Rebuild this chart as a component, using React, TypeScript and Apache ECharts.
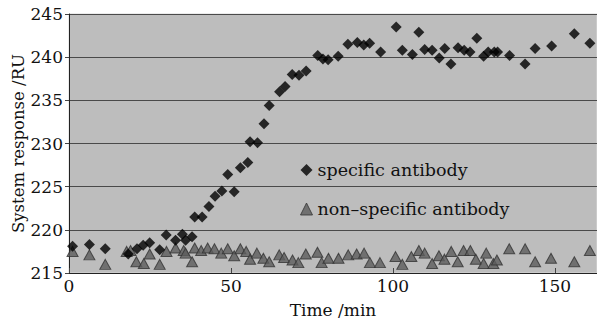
import React, { useEffect, useRef } from "react";
import * as echarts from "echarts";

const specificX = [1.1, 6.3, 11.2, 18.3, 21.0, 22.9, 24.9, 28.0, 30.0, 32.9, 35.0, 36.0, 38.0, 38.8, 41.1, 43.2, 45.1, 47.2, 49.0, 51.0, 52.9, 55.2, 55.9, 58.2, 60.2, 61.8, 65.0, 66.7, 68.9, 71.0, 73.2, 76.8, 78.4, 80.0, 83.1, 86.1, 89.0, 91.0, 92.8, 96.2, 101.0, 102.9, 106.0, 108.0, 109.8, 112.1, 114.3, 116.0, 117.9, 120.1, 122.0, 123.8, 125.9, 128.0, 129.4, 131.3, 132.3, 136.0, 140.8, 143.9, 149.0, 156.0, 160.8];
const specificY = [218.1, 218.3, 217.8, 217.2, 217.8, 218.2, 218.5, 217.7, 219.4, 218.8, 219.5, 218.8, 219.2, 221.5, 221.5, 222.7, 223.9, 224.5, 226.4, 224.4, 227.2, 227.8, 230.2, 230.1, 232.3, 234.4, 236.0, 236.6, 238.0, 237.9, 238.4, 240.2, 239.8, 239.7, 240.1, 241.5, 241.7, 241.4, 241.6, 240.6, 243.5, 240.8, 240.3, 242.9, 240.9, 240.8, 239.9, 241.0, 239.2, 241.1, 240.8, 240.6, 242.2, 240.1, 240.6, 240.6, 240.6, 240.2, 239.2, 241.0, 241.3, 242.7, 241.6];

const nonSpecificX = [1.1, 6.3, 11.2, 17.8, 19.0, 20.8, 23.1, 24.9, 28.0, 30.1, 32.9, 35.4, 36.0, 38.0, 38.8, 40.8, 42.8, 44.9, 47.0, 49.0, 51.0, 52.9, 54.7, 55.9, 58.0, 60.0, 61.8, 64.9, 66.4, 69.0, 70.8, 73.1, 76.7, 78.0, 80.1, 83.2, 86.2, 88.8, 91.1, 92.9, 96.0, 100.8, 102.9, 105.7, 108.0, 109.8, 112.1, 114.2, 115.9, 118.0, 120.0, 121.8, 123.9, 125.6, 128.0, 128.8, 131.0, 132.1, 135.9, 140.8, 143.9, 148.8, 156.0, 160.8];
const nonSpecificY = [217.5, 217.1, 216.0, 217.5, 217.6, 216.3, 216.1, 217.2, 216.0, 217.5, 217.9, 217.6, 217.3, 216.3, 217.9, 217.6, 217.9, 217.8, 217.3, 217.8, 217.0, 217.8, 217.5, 216.6, 217.3, 216.7, 216.3, 217.1, 216.8, 216.5, 216.2, 217.2, 217.4, 216.2, 216.7, 216.7, 217.1, 217.2, 217.3, 216.2, 216.2, 216.9, 216.0, 216.9, 217.6, 217.3, 216.1, 217.0, 216.6, 217.5, 216.3, 217.6, 217.6, 216.6, 216.1, 217.3, 216.1, 216.5, 217.8, 217.8, 216.3, 216.7, 216.3, 217.6];

const seriesNames = ["specific antibody", "non\u2013specific antibody"];
const xTicks = { min: 0, max: 163, interval: 50 };
const yTicks = { min: 215, max: 245, interval: 5 };
const axisTitles = { x: "Time /min", y: "System response /RU" };

const FONT = "DejaVu Serif";

export default function App() {
  const ref = useRef<HTMLDivElement>(null);
  useEffect(() => {
    document.body.style.margin = "0";
    const chart = echarts.init(ref.current!, null, { renderer: "svg" });
    const pair = (xs: number[], ys: number[]) => xs.map((x, i) => [x, ys[i]]);
    chart.setOption({
      animation: false,
      backgroundColor: "#ffffff",
      textStyle: { fontFamily: FONT, color: "#111" },
      grid: {
        left: 69,
        top: 14,
        right: 0,
        bottom: 50,
        containLabel: false,
        outerBoundsMode: "none",
        show: true,
        backgroundColor: "#bdbdbd",
        borderColor: "#d8d8d8",
        borderWidth: 1,
      },
      legend: {
        orient: "vertical",
        left: 295,
        top: 155,
        itemGap: 19,
        itemWidth: 12,
        itemHeight: 12,
        textStyle: { fontFamily: FONT, fontSize: 17.5, color: "#111", lineHeight: 20 },
        data: [
          { name: seriesNames[0], icon: "diamond", itemStyle: { color: "#000" } },
          { name: seriesNames[1], icon: "triangle", itemStyle: { color: "#5c5c5c", borderColor: "#333", borderWidth: 1 } },
        ],
      },
      xAxis: {
        type: "value",
        min: xTicks.min,
        max: xTicks.max,
        interval: xTicks.interval,
        name: axisTitles.x,
        nameLocation: "middle",
        nameGap: 28,
        nameTextStyle: { fontFamily: FONT, fontSize: 17, color: "#111" },
        axisLine: { show: true, lineStyle: { color: "#222", width: 1 } },
        axisTick: { show: true, inside: true, length: 5, lineStyle: { color: "#444" } },
        axisLabel: { fontFamily: FONT, fontSize: 17, color: "#111", margin: 4, showMaxLabel: false },
        splitLine: { show: false },
      },
      yAxis: {
        type: "value",
        min: yTicks.min,
        max: yTicks.max,
        interval: yTicks.interval,
        name: axisTitles.y,
        nameLocation: "middle",
        nameGap: 42,
        nameMoveOverlap: false,
        nameTextStyle: { fontFamily: FONT, fontSize: 16.5, color: "#111" },
        axisLine: { show: true, lineStyle: { color: "#222", width: 1 } },
        axisTick: { show: true, length: 4, lineStyle: { color: "#444" } },
        axisLabel: { fontFamily: FONT, fontSize: 17, color: "#111", margin: 6 },
        splitLine: { show: true, lineStyle: { color: "#4a4a4a", width: 1 } },
      },
      series: [
        {
          name: seriesNames[1],
          type: "scatter",
          symbol: "triangle",
          symbolSize: [11, 10],
          itemStyle: { color: "#5c5c5c", borderColor: "#333", borderWidth: 1 },
          data: pair(nonSpecificX, nonSpecificY),
          z: 2,
        },
        {
          name: seriesNames[0],
          type: "scatter",
          symbol: "diamond",
          symbolSize: 11,
          itemStyle: { color: "#000" },
          data: pair(specificX, specificY),
          z: 3,
        },
      ],
    });
    return () => chart.dispose();
  }, []);
  return <div ref={ref} style={{ width: 597, height: 323 }} />;
}
